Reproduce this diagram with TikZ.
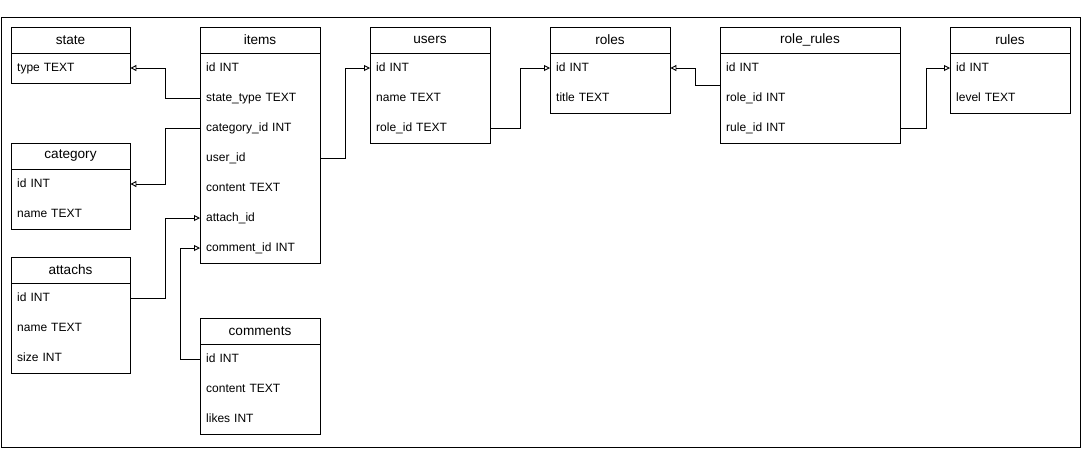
\documentclass[tikz,border=0pt]{standalone}
\usepackage{fontspec}
\setmainfont{Liberation Sans}
\usetikzlibrary{arrows.meta}

\tikzset{
  tbl/.style={draw, line width=0.9pt, anchor=north west, inner sep=0pt},
  hdr/.style={font=\fontsize{13.6}{16}\selectfont, anchor=center, inner sep=0pt},
  fld/.style={font=\fontsize{12}{14}\selectfont, anchor=west, inner xsep=6pt,
    inner ysep=0pt, align=left, text height=9pt, text depth=2.5pt},
  fk/.style={line width=0.9pt, -{Triangle[open, length=6pt, width=6pt]}},
}

% #1 name, #2 x, #3 top y, #4 width, #5 number of fields, #6 title, #7 fields
\newcommand{\ertable}[7]{%
  \node[tbl, minimum width=#4pt, minimum height={26pt+#5*30pt}] (#1) at (#2,#3) {};
  \node[hdr] (#1-h) at ({#2+#4/2},{#3+13}) {#6};
  \draw[line width=0.9pt] ({#2},{#3+26}) -- ({#2+#4},{#3+26});
  \pgfmathsetlengthmacro\fldwidth{#4pt-12pt}%
  \foreach \f [count=\i] in {#7} {
    \node[fld, text width=\fldwidth] (#1-\i) at ({#2},{#3+11+30*\i}) {\f};
  }
}

\begin{document}
\begin{tikzpicture}[x=1pt, y=-1pt]
  \useasboundingbox (0,0) rectangle (1091,448);
  \node[draw, line width=0.9pt, anchor=north west, inner sep=0pt,
        minimum width=1079pt, minimum height=430pt] (frame) at (1,17) {};

  \ertable{state}{11}{27}{119}{1}{state}{type TEXT}
  \ertable{category}{11}{143}{119}{2}{category}{id INT, name TEXT}
  \ertable{attachs}{11}{257}{119}{3}{attachs}{id INT, name TEXT, size INT}
  \ertable{items}{200}{27}{120}{7}{items}{id INT, state\_type TEXT,
    category\_id INT, user\_id, content TEXT, attach\_id, comment\_id INT}
  \ertable{comments}{200}{318}{120}{3}{comments}{id INT, content TEXT, likes INT}
  \ertable{users}{370}{27}{120}{3}{users}{id INT, name TEXT, role\_id TEXT}
  \ertable{roles}{550}{27}{120}{2}{roles}{id INT, title TEXT}
  \ertable{rolerules}{720}{27}{180}{3}{role\_rules}{id INT, role\_id INT, rule\_id INT}
  \ertable{rules}{950}{27}{120}{2}{rules}{id INT, level TEXT}

  % foreign keys
  \draw[fk] (items-2.west) -- ++(-35,0) |- (state-1.east);
  \draw[fk] (items-3.west) -- ++(-35,0) |- (category-1.east);
  \draw[fk] (attachs-1.east) -- ++(35,0) |- (items-6.west);
  \draw[fk] (comments-1.west) -- ++(-20,0) |- (items-7.west);
  \draw[fk] (items-4.east) -- ++(25,0) |- (users-1.west);
  \draw[fk] (users-3.east) -- ++(30,0) |- (roles-1.west);
  \draw[fk] (rolerules.west) -- ++(-25,0) |- (roles-1.east);
  \draw[fk] (rolerules-3.east) -- ++(26,0) |- (rules-1.west);
\end{tikzpicture}
\end{document}
